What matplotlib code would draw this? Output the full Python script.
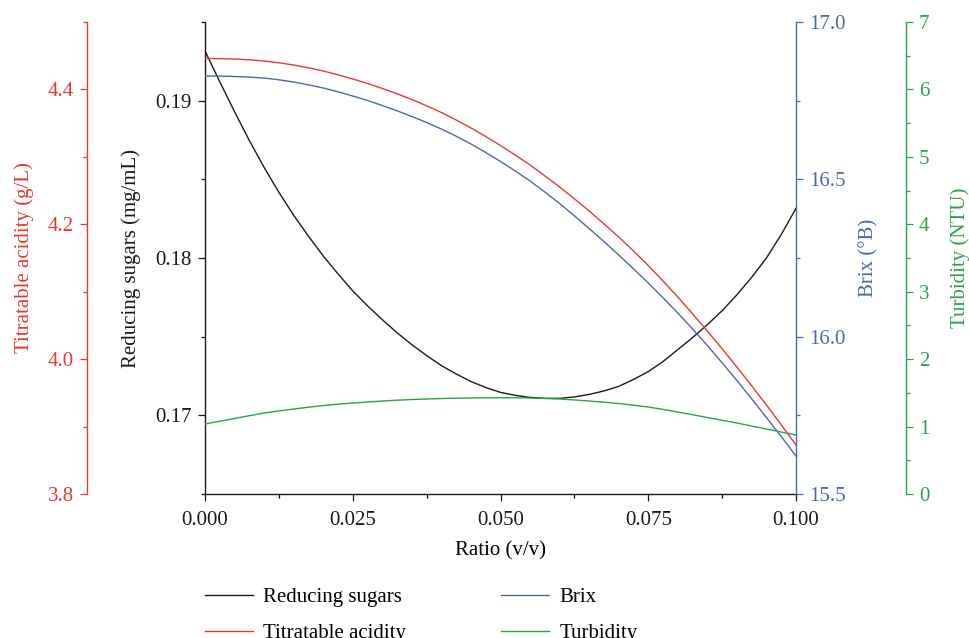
import numpy as np
import matplotlib
matplotlib.use("Agg")
import matplotlib.pyplot as plt
from matplotlib.ticker import MultipleLocator

plt.rcParams["font.family"] = ["Liberation Serif", "DejaVu Serif"]
plt.rcParams["font.size"] = 15

# values (fitted curves, read every 0.0025)
ratio = [0.0000, 0.0025, 0.0050, 0.0075, 0.0100, 0.0125, 0.0150, 0.0175, 0.0200, 0.0225,
         0.0250, 0.0275, 0.0300, 0.0325, 0.0350, 0.0375, 0.0400, 0.0425, 0.0450, 0.0475,
         0.0500, 0.0525, 0.0550, 0.0575, 0.0600, 0.0625, 0.0650, 0.0675, 0.0700, 0.0725,
         0.0750, 0.0775, 0.0800, 0.0825, 0.0850, 0.0875, 0.0900, 0.0925, 0.0950, 0.0975,
         0.1000]
sugars = [0.19316, 0.19120, 0.18930, 0.18747, 0.18576, 0.18418, 0.18272, 0.18139, 0.18013,
          0.17899, 0.17791, 0.17696, 0.17608, 0.17525, 0.17449, 0.17380, 0.17316, 0.17263,
          0.17215, 0.17177, 0.17146, 0.17127, 0.17114, 0.17108, 0.17108, 0.17117, 0.17133,
          0.17155, 0.17184, 0.17228, 0.17278, 0.17342, 0.17418, 0.17494, 0.17576, 0.17665,
          0.17766, 0.17877, 0.18000, 0.18149, 0.18316]
acidity = [4.4459, 4.4457, 4.4451, 4.4439, 4.4422, 4.4395, 4.4362, 4.4321, 4.4273, 4.4217,
           4.4155, 4.4088, 4.4014, 4.3935, 4.3851, 4.3757, 4.3658, 4.3547, 4.3428, 4.3302,
           4.3168, 4.3027, 4.2879, 4.2719, 4.2553, 4.2378, 4.2197, 4.2007, 4.1811, 4.1604,
           4.1389, 4.1159, 4.0922, 4.0672, 4.0417, 4.0153, 3.9883, 3.9604, 3.9320, 3.9026,
           3.8727]
brix = [16.8284, 16.8281, 16.8268, 16.8249, 16.8220, 16.8163, 16.8093, 16.8004, 16.7903,
        16.7782, 16.7648, 16.7505, 16.7346, 16.7178, 16.6997, 16.6806, 16.6600, 16.6371,
        16.6123, 16.5853, 16.5567, 16.5265, 16.4947, 16.4597, 16.4232, 16.3841, 16.3437,
        16.3024, 16.2595, 16.2157, 16.1705, 16.1235, 16.0752, 16.0244, 15.9719, 15.9169,
        15.8607, 15.8025, 15.7431, 15.6827, 15.6207]
turbidity = [1.038, 1.079, 1.120, 1.161, 1.201, 1.232, 1.260, 1.287, 1.312, 1.332, 1.349,
             1.364, 1.379, 1.391, 1.401, 1.409, 1.416, 1.421, 1.424, 1.427, 1.428, 1.427,
             1.424, 1.416, 1.409, 1.395, 1.379, 1.361, 1.342, 1.317, 1.290, 1.255, 1.216,
             1.176, 1.134, 1.094, 1.053, 1.008, 0.964, 0.919, 0.875]

cBlack = "#1a1a1a"
cRed = "#e8392e"
cBlue = "#4a67b5"
cGreen = "#2ea24a"
lw = 1.0

fig = plt.figure(figsize=(9.7, 6.38), dpi=100)
ax = fig.add_axes([205 / 970, 1 - 494 / 638, 591 / 970, 472 / 638])
axRed = ax.twinx()
axBlue = ax.twinx()
axGreen = ax.twinx()

l1, = ax.plot(ratio, sugars, color=cBlack, lw=lw, label="Reducing sugars")
l2, = axRed.plot(ratio, acidity, color=cRed, lw=lw, label="Titratable acidity")
l3, = axBlue.plot(ratio, brix, color=cBlue, lw=lw, label="Brix")
l4, = axGreen.plot(ratio, turbidity, color=cGreen, lw=lw, label="Turbidity")

ax.set_xlim(0, 0.1)
ax.set_ylim(0.165, 0.195)
axRed.set_ylim(3.8, 4.5)
axBlue.set_ylim(15.5, 17.0)
axGreen.set_ylim(0, 7)

ax.xaxis.set_major_locator(MultipleLocator(0.025))
ax.xaxis.set_minor_locator(MultipleLocator(0.0125))
ax.xaxis.set_major_formatter(plt.FormatStrFormatter("%.3f"))
ax.yaxis.set_major_locator(MultipleLocator(0.01))
ax.yaxis.set_minor_locator(MultipleLocator(0.005))
ax.yaxis.set_major_formatter(plt.FormatStrFormatter("%.2f"))
axRed.yaxis.set_major_locator(MultipleLocator(0.2))
axRed.yaxis.set_minor_locator(MultipleLocator(0.1))
axRed.yaxis.set_major_formatter(plt.FormatStrFormatter("%.1f"))
axBlue.yaxis.set_major_locator(MultipleLocator(0.5))
axBlue.yaxis.set_minor_locator(MultipleLocator(0.25))
axBlue.yaxis.set_major_formatter(plt.FormatStrFormatter("%.1f"))
axGreen.yaxis.set_major_locator(MultipleLocator(1))
axGreen.yaxis.set_minor_locator(MultipleLocator(0.5))

# spines
ax.spines["top"].set_visible(False)
ax.spines["right"].set_visible(False)
for a in (axRed, axBlue, axGreen):
    for s in a.spines.values():
        s.set_visible(False)

axRed.yaxis.set_ticks_position("left")
axRed.yaxis.set_label_position("left")
axRed.spines["left"].set_visible(True)
axRed.spines["left"].set_position(("axes", -0.1997))
axRed.spines["left"].set_color(cRed)

axBlue.spines["right"].set_visible(True)
axBlue.spines["right"].set_color(cBlue)

axGreen.spines["right"].set_visible(True)
axGreen.spines["right"].set_position(("axes", 1.1856))
axGreen.spines["right"].set_color(cGreen)

ax.spines["left"].set_color(cBlack)
ax.spines["bottom"].set_color(cBlack)

for a, c in ((ax, cBlack), (axRed, cRed), (axBlue, cBlue), (axGreen, cGreen)):
    a.tick_params(axis="y", which="major", direction="out", length=5, width=0.9,
                  colors=c, labelsize=15, pad=4.5)
    a.tick_params(axis="y", which="minor", direction="out", length=3, width=0.9, colors=c)
ax.tick_params(axis="x", which="major", direction="out", length=5, width=0.9,
               colors=cBlack, labelsize=15, pad=7)
ax.tick_params(axis="x", which="minor", direction="out", length=3, width=0.9)
for a in (ax, axRed, axBlue, axGreen):
    for s in a.spines.values():
        s.set_linewidth(1.0)

ax.set_xlabel("Ratio (v/v)", fontsize=15, labelpad=8.5)
ax.set_ylabel("Reducing sugars (mg/mL)", fontsize=15, color=cBlack)
axRed.set_ylabel("Titratable acidity (g/L)", fontsize=15, color=cRed)
axBlue.set_ylabel("Brix (°B)", fontsize=15, color=cBlue)
axGreen.set_ylabel("Turbidity (NTU)", fontsize=15, color=cGreen)
ax.yaxis.set_label_coords(-0.108, 0.5)
axRed.yaxis.set_label_coords(-0.2885, 0.5)
axBlue.yaxis.set_label_coords(1.1066, 0.5)
axGreen.yaxis.set_label_coords(1.2606, 0.5)

fig.legend(handles=[l1, l2, l3, l4], ncol=2, frameon=False, loc="upper left",
           bbox_to_anchor=(205 / 970, 1 - 587.5 / 638), fontsize=15,
           handlelength=2.3, handletextpad=0.5, columnspacing=4.55,
           labelspacing=0.8, borderpad=0, borderaxespad=0)

fig.savefig("out.png", dpi=100)
